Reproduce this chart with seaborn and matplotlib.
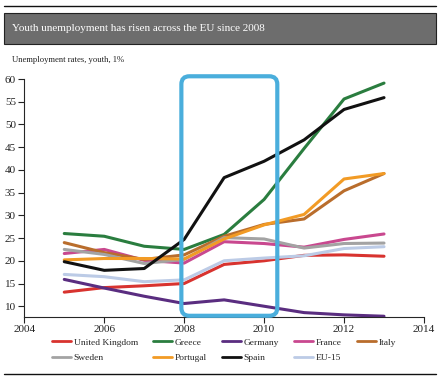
import numpy as np
import pandas as pd
import seaborn as sns
import matplotlib.pyplot as plt
from matplotlib.patches import FancyBboxPatch, Rectangle
from matplotlib.lines import Line2D

# data (youth unemployment, %)
years = [2005, 2006, 2007, 2008, 2009, 2010, 2011, 2012, 2013]
uk = [13.1, 14.1, 14.5, 15.0, 19.2, 20.0, 21.2, 21.3, 21.0]
greece = [26.0, 25.4, 23.2, 22.5, 25.8, 33.5, 44.7, 55.6, 59.1]
germany = [15.9, 14.0, 12.2, 10.6, 11.4, 10.0, 8.6, 8.1, 7.8]
france = [21.6, 22.5, 20.1, 19.5, 24.2, 23.8, 23.0, 24.7, 25.9]
italy = [24.0, 21.8, 20.3, 21.3, 25.4, 28.0, 29.2, 35.4, 39.2]
sweden = [22.5, 21.4, 19.4, 20.3, 25.1, 24.8, 22.8, 23.8, 23.9]
portugal = [20.2, 20.5, 20.5, 20.4, 24.8, 27.9, 30.2, 38.0, 39.2]
spain = [19.8, 17.9, 18.3, 24.7, 38.3, 41.9, 46.6, 53.3, 55.9]
eu15 = [17.0, 16.5, 15.4, 15.8, 20.0, 20.6, 21.1, 22.7, 23.1]

series = ["United Kingdom", "Greece", "Germany", "France", "Italy",
          "Sweden", "Portugal", "Spain", "EU-15"]
colours = ["#d8332f", "#2a7d3f", "#5a2d80", "#c9488f", "#b96d2c",
           "#a3a3a3", "#f29b25", "#111111", "#bccbe6"]
values = [uk, greece, germany, france, italy, sweden, portugal, spain, eu15]

df = pd.DataFrame({
    "year": years * len(series),
    "rate": np.concatenate(values),
    "country": np.repeat(series, len(years)),
})

sns.set_style("ticks")
plt.rcParams["font.family"] = ["Liberation Serif", "DejaVu Serif"]

fig = plt.figure(figsize=(4.4, 3.78), dpi=100)
ax = fig.add_axes([0.0552, 0.1622, 0.9084, 0.6288])

sns.lineplot(data=df, x="year", y="rate", hue="country", hue_order=series,
             palette=colours, linewidth=2.2, legend=False, ax=ax)

ax.set_xlim(2004, 2014)
ax.set_ylim(7.7, 60)
ax.set_xticks([2004, 2006, 2008, 2010, 2012, 2014])
ax.set_yticks(range(10, 61, 5))
ax.set_xlabel("")
ax.set_ylabel("")
ax.tick_params(labelsize=8, length=4, width=0.8, colors="#222222", pad=2)
for s in ["top", "right"]:
    ax.spines[s].set_visible(False)
for s in ["left", "bottom"]:
    ax.spines[s].set_linewidth(0.8)

# highlight box 2008-2010
box = FancyBboxPatch((2007.93, 7.9), 2010.33 - 2007.93, 60.6 - 7.9,
                     boxstyle="round,pad=0,rounding_size=0.2",
                     mutation_aspect=8.8, transform=ax.transData,
                     fill=False, edgecolor="#4aaedc", linewidth=3.0,
                     clip_on=False, zorder=5)
ax.add_patch(box)

# header
fig.add_artist(Line2D([0.009, 0.991], [0.984, 0.984], color="#111111", linewidth=1.0))
fig.add_artist(Rectangle((0.009, 0.8836), 0.982, 0.082, facecolor="#6d6d6d",
                         edgecolor="#222222", linewidth=0.8))
fig.text(0.027, 0.9246, "Youth unemployment has risen across the EU since 2008",
         color="white", fontsize=8.0, va="center", ha="left")
fig.text(0.027, 0.841, "Unemployment rates, youth, 1%", color="#222222",
         fontsize=6.2, va="center", ha="left")
fig.add_artist(Line2D([0.009, 0.991], [0.0106, 0.0106], color="#111111", linewidth=1.0))

# legend, filled row-wise
handles = [Line2D([], [], color=c, linewidth=2.0) for c in colours]
order = [0, 5, 1, 6, 2, 7, 3, 8, 4]
fig.legend([handles[i] for i in order], [series[i] for i in order],
           ncol=5, loc="upper left", bbox_to_anchor=(0.118, 0.106),
           frameon=False, fontsize=6.8, handlelength=2.0, handletextpad=0.3,
           columnspacing=1.6, labelspacing=0.75, borderpad=0, borderaxespad=0)

fig.savefig("out.png", dpi=100)
